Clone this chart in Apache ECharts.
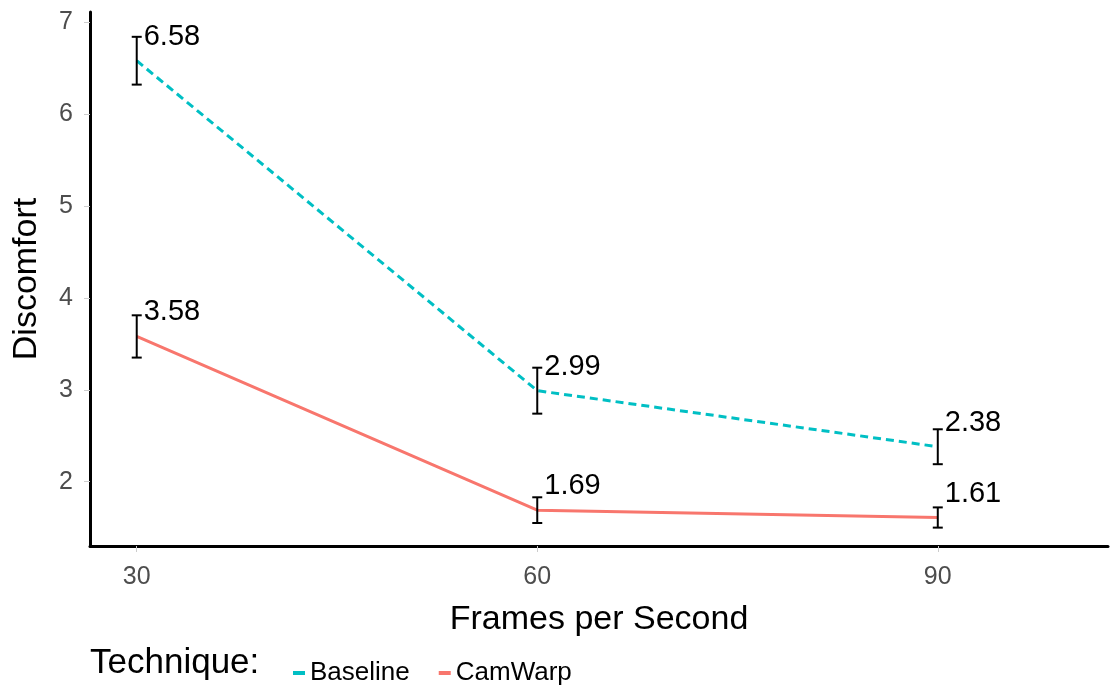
<!DOCTYPE html>
<html>
<head>
<meta charset="utf-8">
<title>Discomfort by Frames per Second</title>
<script src="https://cdn.jsdelivr.net/npm/echarts@6/dist/echarts.min.js"></script>
<style>
  html, body { margin: 0; padding: 0; background: #ffffff; }
  #chart { width: 1112px; height: 689px; }
</style>
</head>
<body>
<div id="chart"></div>
<script>
// Frame rates tested
const fps = [30, 60, 90];
// Mean discomfort per technique
const baselineMean = [6.58, 2.99, 2.38];
const camwarpMean = [3.58, 1.69, 1.61];
// Standard error half-widths
const baselineErr = [0.26, 0.25, 0.19];
const camwarpErr = [0.23, 0.14, 0.11];
// Tick labels
const xTicks = [30, 60, 90];
const yTicks = [2, 3, 4, 5, 6, 7];

const TEAL = '#00BFC4';
const RED = '#F8766D';
const FONT = '"Liberation Sans", Arial, sans-serif';

function pairs(xs, ys) { return xs.map((x, i) => [x, ys[i]]); }
function errRows(xs, ys, es) { return xs.map((x, i) => [x, ys[i] - es[i], ys[i] + es[i]]); }

// Error bar with caps, drawn in data coordinates
function renderErr(params, api) {
  const x = api.value(0);
  const lo = api.coord([x, api.value(1)]);
  const hi = api.coord([x, api.value(2)]);
  const half = 5;
  const style = { stroke: '#000', lineWidth: 2 };
  return {
    type: 'group',
    children: [
      { type: 'line', shape: { x1: lo[0], y1: lo[1], x2: hi[0], y2: hi[1] }, style },
      { type: 'line', shape: { x1: lo[0] - half, y1: lo[1], x2: lo[0] + half, y2: lo[1] }, style },
      { type: 'line', shape: { x1: hi[0] - half, y1: hi[1], x2: hi[0] + half, y2: hi[1] }, style }
    ]
  };
}

// Value labels placed up and to the right of each mean
function valueLabels(name, ys) {
  return {
    name: name,
    type: 'scatter',
    data: pairs(fps, ys),
    symbolSize: 0,
    silent: true,
    itemStyle: { opacity: 1 },
    label: {
      show: true,
      position: [7, -24],
      align: 'left',
      verticalAlign: 'middle',
      color: '#000000',
      opacity: 1,
      textBorderWidth: 0,
      fontSize: 29,
      fontFamily: FONT,
      formatter: p => p.value[1].toFixed(2)
    },
    z: 4
  };
}

const chart = echarts.init(document.getElementById('chart'), null, { renderer: 'canvas' });

chart.setOption({
  animation: false,
  backgroundColor: '#ffffff',
  grid: { left: 90, right: 4, top: 12, bottom: 143, containLabel: false },
  xAxis: {
    type: 'value',
    min: 26.5,
    max: 102.75,
    name: 'Frames per Second',
    nameLocation: 'middle',
    nameGap: 57,
    nameTextStyle: { color: '#000', fontSize: 34, fontFamily: FONT },
    axisLine: { show: true, onZero: false, lineStyle: { color: '#000', width: 3 } },
    axisTick: { show: true, customValues: xTicks, length: 6, lineStyle: { color: '#cccccc', width: 1 } },
    axisLabel: { customValues: xTicks, color: '#4d4d4d', fontSize: 25, fontFamily: FONT, margin: 19 },
    splitLine: { show: false }
  },
  yAxis: {
    type: 'value',
    min: 1.3,
    max: 7.11,
    name: 'Discomfort',
    nameLocation: 'middle',
    nameGap: 46,
    nameTextStyle: { color: '#000', fontSize: 34, fontFamily: FONT },
    axisLine: { show: true, onZero: false, lineStyle: { color: '#000', width: 3 } },
    axisTick: { show: true, customValues: yTicks, length: 6, lineStyle: { color: '#cccccc', width: 1 } },
    axisLabel: { customValues: yTicks, color: '#4d4d4d', fontSize: 25, fontFamily: FONT, margin: 17 },
    splitLine: { show: false }
  },
  legend: {
    left: 293,
    top: 660,
    padding: 0,
    itemWidth: 12,
    itemHeight: 4,
    itemGap: 29,
    textStyle: { color: '#000', fontSize: 26, fontFamily: FONT },
    data: [
      { name: 'Baseline', icon: 'rect', itemStyle: { color: TEAL } },
      { name: 'CamWarp', icon: 'rect', itemStyle: { color: RED } }
    ]
  },
  graphic: [
    {
      type: 'text',
      x: 90,
      y: 663,
      style: { text: 'Technique:', fill: '#000', font: '35px ' + FONT, verticalAlign: 'middle' }
    }
  ],
  series: [
    {
      name: 'Baseline',
      type: 'line',
      data: pairs(fps, baselineMean),
      symbol: 'none',
      lineStyle: { color: TEAL, width: 3, type: [8, 5] },
      itemStyle: { color: TEAL },
      z: 2
    },
    {
      name: 'CamWarp',
      type: 'line',
      data: pairs(fps, camwarpMean),
      symbol: 'none',
      lineStyle: { color: RED, width: 3, type: 'solid' },
      itemStyle: { color: RED },
      z: 2
    },
    {
      name: 'BaselineErr',
      type: 'custom',
      renderItem: renderErr,
      data: errRows(fps, baselineMean, baselineErr),
      encode: { x: 0, y: [1, 2] },
      z: 3
    },
    {
      name: 'CamWarpErr',
      type: 'custom',
      renderItem: renderErr,
      data: errRows(fps, camwarpMean, camwarpErr),
      encode: { x: 0, y: [1, 2] },
      z: 3
    },
    valueLabels('BaselineLabels', baselineMean),
    valueLabels('CamWarpLabels', camwarpMean)
  ]
});
</script>
</body>
</html>
